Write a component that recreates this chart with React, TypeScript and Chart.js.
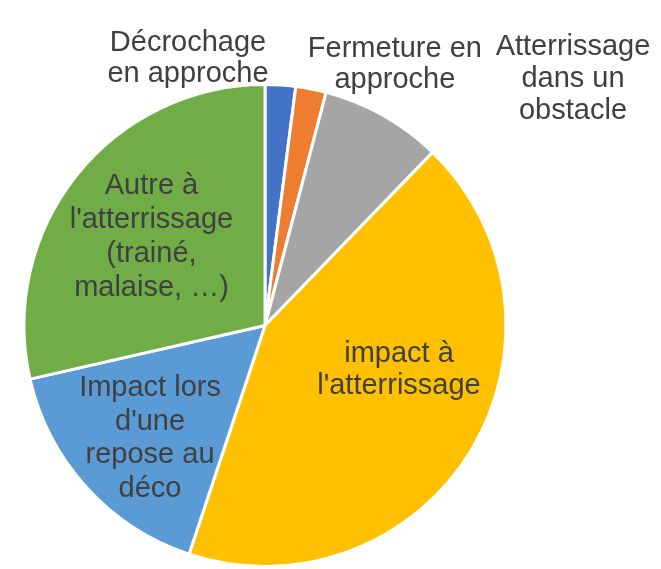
import React, { useEffect, useRef } from "react";
import { Chart, registerables } from "chart.js";

Chart.register(...registerables);

const categories: string[][] = [
  ["Décrochage", "en approche"],
  ["Fermeture en", "approche"],
  ["Atterrissage", "dans un", "obstacle"],
  ["impact à", "l'atterrissage"],
  ["Impact lors", "d'une", "repose au", "déco"],
  ["Autre à", "l'atterrissage", "(trainé,", "malaise, …)"],
];
const values: number[] = [1, 1, 4, 21, 8, 14];
const colors: string[] = ["#4472C4", "#ED7D31", "#A5A5A5", "#FFC000", "#5B9BD5", "#70AD47"];

// label anchors relative to pie centre, in units of the outer radius
const labelOffsets: [number, number][] = [
  [-0.3195, -1.118],
  [0.539, -1.093],
  [1.278, -1.032],
  [0.556, 0.174],
  [-0.477, 0.4585],
  [-0.471, -0.3755],
];
const labelLineHeights: number[] = [31, 31, 32, 32.5, 33.5, 34];

const W = 661;
const H = 569;
const FONT_SIZE = 29;

const labelPlugin = {
  id: "sliceLabels",
  afterDatasetsDraw(chart: any) {
    const meta = chart.getDatasetMeta(0);
    const ctx = chart.ctx as CanvasRenderingContext2D;
    ctx.save();
    ctx.font = `${FONT_SIZE}px "Liberation Sans", Arial, sans-serif`;
    ctx.fillStyle = "#404040";
    ctx.textAlign = "center";
    ctx.textBaseline = "alphabetic";
    const capH = FONT_SIZE * 0.716;
    meta.data.forEach((arc: any, i: number) => {
      const R = arc.outerRadius;
      const cx = arc.x + labelOffsets[i][0] * R;
      const cy = arc.y + labelOffsets[i][1] * R;
      const lines = categories[i];
      const lh = labelLineHeights[i];
      const n = lines.length;
      lines.forEach((line, k) => {
        const w = ctx.measureText(line).width;
        let x = cx;
        if (x + w / 2 > chart.width - 4) x = chart.width - 4 - w / 2;
        const y = cy + (k - (n - 1) / 2) * lh + capH / 2;
        ctx.fillText(line, x, y);
      });
    });
    ctx.restore();
  },
};

export default function App() {
  const canvasRef = useRef<HTMLCanvasElement | null>(null);

  useEffect(() => {
    document.body.style.margin = "0";
    const canvas = canvasRef.current;
    if (!canvas) return;
    const chart = new Chart(canvas, {
      type: "pie",
      data: {
        labels: categories.map((c) => c.join(" ")),
        datasets: [
          {
            data: values,
            backgroundColor: colors,
            borderColor: "#ffffff",
            borderWidth: 3,
          },
        ],
      },
      options: {
        responsive: false,
        animation: false,
        layout: { padding: { left: 22.5, right: 153.5, top: 83, bottom: 1 } },
        plugins: {
          legend: { display: false },
          tooltip: { enabled: false },
          title: { display: false },
        },
      },
      plugins: [labelPlugin],
    });
    return () => chart.destroy();
  }, []);

  return (
    <div style={{ position: "absolute", left: 0, top: 0, width: W, height: H, background: "#fff" }}>
      <canvas ref={canvasRef} width={W} height={H} style={{ width: W, height: H, display: "block" }} />
    </div>
  );
}
